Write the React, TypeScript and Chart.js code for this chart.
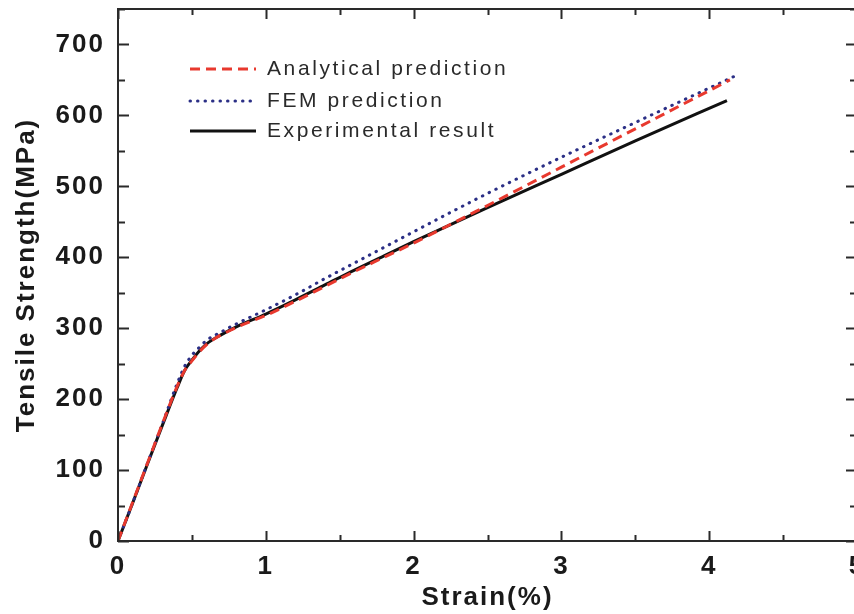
import React, { useEffect, useRef } from 'react';
import { Chart, registerables } from 'chart.js';

Chart.register(...registerables);

const X_TICKS = [0, 1, 2, 3, 4, 5];
const Y_TICKS = [0, 100, 200, 300, 400, 500, 600, 700];
const X_TITLE = 'Strain(%)';
const Y_TITLE = 'Tensile Strength(MPa)';
const SERIES_NAMES = ['Analytical prediction', 'FEM prediction', 'Experimental result'];

const analyticalStrain = [0, 0.1, 0.2, 0.3, 0.4, 0.45, 0.5, 0.6, 0.8, 1.0, 1.2, 1.4, 1.6, 1.8, 2.0, 2.5, 3.0, 3.5, 4.14];
const analyticalStress = [0, 55, 110, 165, 218, 240, 254, 277, 301, 318, 338, 359, 380, 400, 420, 473, 527, 581, 650];

const femStrain = [0, 0.1, 0.2, 0.3, 0.4, 0.45, 0.5, 0.55, 0.6, 0.7, 0.8, 1.0, 1.2, 1.4, 1.6, 1.8, 2.0, 2.5, 3.0, 3.5, 4.19];
const femStress = [0, 54, 110, 165, 222, 246, 262, 273, 283, 295, 306, 326, 347, 370, 392, 414, 436, 490, 541, 590, 657];

const expStrain = [0, 0.1, 0.2, 0.3, 0.4, 0.45, 0.5, 0.55, 0.6, 0.7, 0.8, 1.0, 1.2, 1.4, 1.6, 1.8, 2.0, 2.5, 3.0, 3.5, 4.12];
const expStress = [0, 54, 109, 163, 216, 240, 255, 268, 278, 291, 302, 320, 340, 361, 382, 402, 422, 470, 517, 564, 621];

const toPoints = (xs: number[], ys: number[]) => xs.map((x, i) => ({ x, y: ys[i] }));

const FONT = '"Liberation Sans", Arial, sans-serif';

const framePlugin = {
  id: 'frameAndLegend',
  beforeDraw(chart: any) {
    chart.ctx.letterSpacing = '2px';
  },
  afterDatasetsDraw(chart: any) {
    const { ctx, chartArea: a, scales } = chart;
    ctx.save();
    ctx.strokeStyle = '#2a2a2a';
    ctx.lineWidth = 2;
    ctx.strokeRect(a.left, a.top, a.right - a.left, a.bottom - a.top);
    ctx.beginPath();
    for (let v = 0; v <= 5.0001; v += 0.5) {
      const px = Math.round(scales.x.getPixelForValue(v)) + 0.5;
      const major = Math.abs(v - Math.round(v)) < 1e-6;
      const len = major ? 10 : 6;
      ctx.moveTo(px, a.bottom);
      ctx.lineTo(px, a.bottom - len);
      ctx.moveTo(px, a.top);
      ctx.lineTo(px, a.top + len);
    }
    for (let v = 0; v <= 750; v += 50) {
      const py = Math.round(scales.y.getPixelForValue(v)) + 0.5;
      const major = v % 100 === 0;
      const len = major ? 11 : 7;
      ctx.moveTo(a.left, py);
      ctx.lineTo(a.left + len, py);
      ctx.moveTo(a.right, py);
      ctx.lineTo(a.right - len, py);
    }
    ctx.stroke();
    ctx.restore();
  },
  afterDraw(chart: any) {
    const { ctx, chartArea: a } = chart;
    const ds = chart.data.datasets;
    const x0 = a.left + 72;
    const x1 = a.left + 138;
    const tx = a.left + 149;
    const rows = [a.top + 60, a.top + 92, a.top + 122];
    ctx.save();
    ds.forEach((d: any, i: number) => {
      const y = rows[i];
      ctx.beginPath();
      ctx.strokeStyle = d.borderColor;
      ctx.lineWidth = d.borderWidth;
      ctx.lineCap = d.borderCapStyle || 'butt';
      ctx.setLineDash(d.borderDash || []);
      ctx.moveTo(x0, y);
      ctx.lineTo(x1, y);
      ctx.stroke();
      ctx.setLineDash([]);
      ctx.fillStyle = '#2a2a2a';
      ctx.font = `21px ${FONT}`;
      ctx.letterSpacing = '2.6px';
      ctx.textBaseline = 'middle';
      ctx.textAlign = 'left';
      ctx.fillText(d.label, tx, y);
    });
    ctx.restore();
  },
};

export default function App() {
  const ref = useRef<HTMLCanvasElement | null>(null);

  useEffect(() => {
    if (!ref.current) return;
    const chart = new Chart(ref.current, {
      type: 'line',
      data: {
        datasets: [
          {
            label: SERIES_NAMES[0],
            data: toPoints(analyticalStrain, analyticalStress),
            borderColor: '#e8392e',
            borderWidth: 3,
            borderDash: [10, 6],
            pointRadius: 0,
            cubicInterpolationMode: 'monotone',
            fill: false,
          },
          {
            label: SERIES_NAMES[1],
            data: toPoints(femStrain, femStress),
            borderColor: '#2b2f86',
            borderWidth: 3,
            borderDash: [0.5, 7],
            borderCapStyle: 'round',
            pointRadius: 0,
            cubicInterpolationMode: 'monotone',
            fill: false,
          },
          {
            label: SERIES_NAMES[2],
            data: toPoints(expStrain, expStress),
            borderColor: '#111111',
            borderWidth: 3,
            pointRadius: 0,
            cubicInterpolationMode: 'monotone',
            fill: false,
          },
        ],
      },
      options: {
        responsive: false,
        animation: false,
        devicePixelRatio: 1,
        layout: { padding: { top: 1, right: 21, bottom: 0, left: 0 } },
        plugins: { legend: { display: false }, tooltip: { enabled: false } },
        scales: {
          x: {
            type: 'linear',
            min: 0,
            max: 5,
            grid: { display: false, drawTicks: false },
            border: { display: false },
            afterBuildTicks: (s: any) => {
              s.ticks = X_TICKS.map((v) => ({ value: v }));
            },
            afterFit: (s: any) => {
              s.height = 73;
              s.paddingLeft = 0;
              s.paddingRight = 0;
            },
            ticks: {
              autoSkip: false,
              maxRotation: 0,
              padding: 10,
              color: '#1a1a1a',
              font: { family: FONT, size: 26, weight: 'bold' },
              callback: (v: any) => String(v),
            },
            title: {
              display: true,
              text: X_TITLE,
              color: '#1a1a1a',
              font: { family: FONT, size: 26, weight: 'bold' },
              padding: { top: 0, bottom: 1 },
            },
          },
          y: {
            type: 'linear',
            min: 0,
            max: 750,
            grid: { display: false, drawTicks: false },
            border: { display: false },
            afterBuildTicks: (s: any) => {
              s.ticks = Y_TICKS.map((v) => ({ value: v }));
            },
            afterFit: (s: any) => {
              s.width = 110;
              s.paddingTop = 0;
              s.paddingBottom = 0;
            },
            ticks: {
              autoSkip: false,
              padding: 13,
              color: '#1a1a1a',
              font: { family: FONT, size: 26, weight: 'bold' },
              callback: (v: any) => String(v),
            },
            title: {
              display: true,
              text: Y_TITLE,
              color: '#1a1a1a',
              font: { family: FONT, size: 26, weight: 'bold' },
              padding: { top: 3, bottom: 0 },
            },
          },
        },
      } as any,
      plugins: [framePlugin],
    });
    return () => chart.destroy();
  }, []);

  return (
    <div
      style={{
        position: 'fixed',
        left: 8,
        top: 8,
        width: 846,
        height: 606,
        overflow: 'hidden',
        background: '#fff',
      }}
    >
      <canvas ref={ref} width={870} height={606} style={{ display: 'block', width: 870, height: 606 }} />
    </div>
  );
}
